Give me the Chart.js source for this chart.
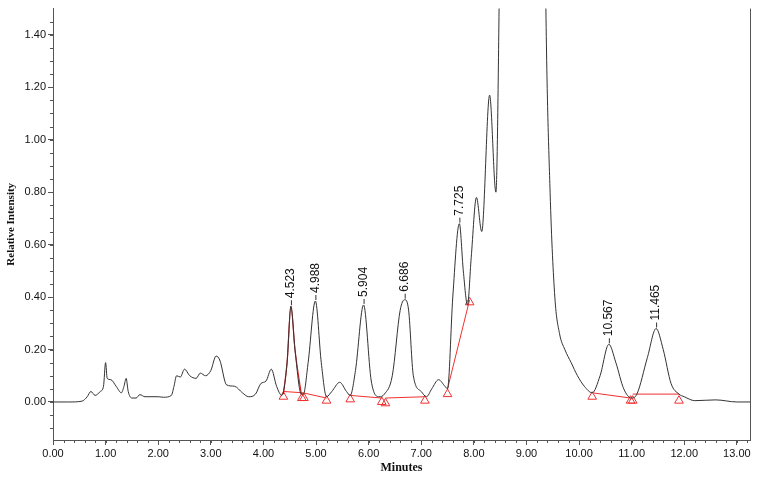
<!DOCTYPE html>
<html><head><meta charset="utf-8">
<script src="https://cdn.jsdelivr.net/npm/chart.js@4"></script>
<style>html,body{margin:0;padding:0;background:#fff}#w{width:758px;height:479px}</style>
</head><body><div id="w"><canvas id="c"></canvas></div>
<script>
const traceX=[0,0.3,0.55,0.65,0.72,0.8,0.9,0.96,1.0,1.03,1.1,1.2,1.3,1.35,1.39,1.43,1.5,1.58,1.65,1.75,2.0,2.1,2.25,2.3,2.35,2.42,2.5,2.6,2.72,2.8,2.9,3.0,3.1,3.17,3.3,3.45,3.6,3.72,3.85,3.95,4.05,4.15,4.25,4.35,4.45,4.523,4.6,4.72,4.76,4.85,4.988,5.1,5.2,5.3,5.45,5.58,5.65,5.75,5.904,6.05,6.2,6.3,6.45,6.6,6.686,6.76,6.85,7.0,7.1,7.2,7.33,7.45,7.5,7.6,7.725,7.8,7.88,7.95,8.05,8.15,8.3,8.42,8.48,8.55,9.3,9.37,9.45,9.54,9.63,9.73,9.85,9.97,10.1,10.25,10.4,10.567,10.7,10.85,11.0,11.1,11.3,11.465,11.6,11.75,11.9,12.0,12.2,12.6,13.0,13.25];
const traceY=[0,0,0.003,0.02,0.04,0.025,0.04,0.06,0.15,0.09,0.085,0.06,0.035,0.06,0.09,0.04,0.015,0.015,0.028,0.02,0.02,0.018,0.025,0.06,0.1,0.095,0.125,0.1,0.09,0.11,0.1,0.12,0.175,0.16,0.065,0.06,0.035,0.02,0.03,0.07,0.08,0.125,0.06,0.025,0.15,0.365,0.2,0.03,0.03,0.15,0.385,0.15,0.02,0.04,0.075,0.04,0.025,0.12,0.37,0.08,0.02,0.03,0.1,0.35,0.39,0.35,0.1,0.04,0.02,0.05,0.085,0.06,0.05,0.4,0.68,0.5,0.37,0.55,0.78,0.65,1.17,0.8,1.5,3,3,1.5,0.8,0.4,0.26,0.2,0.15,0.1,0.06,0.035,0.1,0.22,0.15,0.05,0.015,0.03,0.17,0.28,0.2,0.07,0.03,0.02,0.005,0.008,0,0];
const redX=[4.38,4.45,4.523,4.6,4.72];
const redY=[0.03,0.15,0.365,0.2,0.03];
const baseSegs=[[[4.38,0.04],[4.75,0.035],[5.2,0.015]],[[5.65,0.025],[6.25,0.015]],[[6.32,0.015],[7.07,0.02]],[[7.5,0.05],[7.92,0.39]],[[10.25,0.035],[10.98,0.015]],[[11.02,0.03],[11.9,0.03]]];
const markX=[4.38,4.73,4.77,5.2,5.65,6.25,6.32,7.07,7.5,7.92,10.25,10.98,11.02,11.9];
const markY=[0.02,0.015,0.015,0.005,0.01,0.0,-0.005,0.005,0.03,0.38,0.02,0.005,0.005,0.005];
const peakLabels=['4.523','4.988','5.904','6.686','7.725','10.567','11.465'];
const peakX=[4.523,4.988,5.904,6.686,7.725,10.567,11.465];
const peakY=[0.365,0.385,0.37,0.39,0.68,0.22,0.28];
const yTicks=[0,0.2,0.4,0.6,0.8,1.0,1.2,1.4];
const xTicks=[0,1,2,3,4,5,6,7,8,9,10,11,12,13];

const pts=(xs,ys)=>xs.map((x,i)=>({x,y:ys[i]}));
const datasets=[
 {data:pts(traceX,traceY),borderColor:'#333',borderWidth:1,pointRadius:0,cubicInterpolationMode:'monotone'},
 {data:pts(redX,redY),borderColor:'#e02020',borderWidth:1.2,pointRadius:0,cubicInterpolationMode:'monotone'}
];
baseSegs.forEach(s=>datasets.push({data:s.map(p=>({x:p[0],y:p[1]})),borderColor:'#f03030',borderWidth:1,pointRadius:0,tension:0}));
datasets.push({data:pts(markX,markY),showLine:false,pointStyle:'triangle',pointRadius:5,borderColor:'#f03030',backgroundColor:'rgba(0,0,0,0)',borderWidth:1});

const font={family:'Liberation Sans, Arial',size:11};
const extras={id:'extras',afterDatasetsDraw(ch){
 const c=ch.ctx,xs=ch.scales.x,ys=ch.scales.y,a=ch.chartArea;
 c.save();c.strokeStyle='#555';c.lineWidth=1;
 c.beginPath();c.moveTo(a.right+0.5,a.top);c.lineTo(a.right+0.5,a.bottom);c.stroke();
 c.beginPath();
 for(let v=-0.1;v<1.5;v+=0.05){const y=Math.round(ys.getPixelForValue(v))+0.5;c.moveTo(a.left-3,y);c.lineTo(a.left,y);}
 for(let v=0.2;v<13.25;v+=0.2){const x=Math.round(xs.getPixelForValue(v))+0.5;c.moveTo(x,a.bottom);c.lineTo(x,a.bottom+3);}
 c.stroke();
 c.fillStyle='#111';c.strokeStyle='#333';c.font='12px Liberation Sans, Arial';c.textAlign='left';c.textBaseline='middle';
 peakLabels.forEach((t,i)=>{const x=xs.getPixelForValue(peakX[i]),y=ys.getPixelForValue(peakY[i]);
  c.beginPath();c.moveTo(x+0.5,y-1);c.lineTo(x+0.5,y-6);c.stroke();
  c.save();c.translate(x,y-8);c.rotate(-Math.PI/2);c.fillText(t,0,0);c.restore();});
 c.restore();}};

new Chart(document.getElementById('c'),{type:'line',data:{datasets},
 options:{responsive:true,maintainAspectRatio:false,animation:false,
  layout:{padding:{top:7,right:8,left:5,bottom:0}},
  plugins:{legend:{display:false},tooltip:{enabled:false}},
  scales:{
   x:{type:'linear',min:0,max:13.25,
    afterBuildTicks:s=>{s.ticks=xTicks.map(v=>({value:v}));},
    afterFit:s=>{s.height=39;},
    ticks:{font,color:'#111',maxRotation:0,callback:v=>v.toFixed(2),padding:2},
    grid:{drawOnChartArea:false,tickLength:5,color:'#555'},border:{color:'#555'},
    title:{display:true,text:'Minutes',font:{family:'Liberation Serif',size:12,weight:'bold'},color:'#111',padding:{top:0}}},
   y:{min:-0.145,max:1.5,
    afterBuildTicks:s=>{s.ticks=yTicks.map(v=>({value:v}));},
    afterFit:s=>{s.width=48;},
    ticks:{font,color:'#111',callback:v=>v.toFixed(2),padding:2},
    grid:{drawOnChartArea:false,tickLength:5,color:'#555'},border:{color:'#555'},
    title:{display:true,text:'Relative Intensity',font:{family:'Liberation Serif',size:11,weight:'bold'},color:'#111',padding:0}}
  }},plugins:[extras]});
</script></body></html>
